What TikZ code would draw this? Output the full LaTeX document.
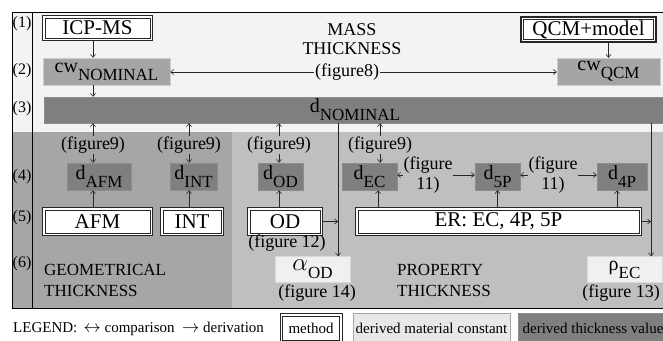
\documentclass[tikz,border=0pt]{standalone}
\usepackage{fontspec}
\setmainfont{Liberation Serif}
\usepackage{tikz}
\usetikzlibrary{arrows.meta, positioning}

\definecolor{bandlight}{HTML}{F3F3F3}
\definecolor{geomgray}{HTML}{A6A6A6}
\definecolor{propgray}{HTML}{BFBFBF}
\definecolor{valgray}{HTML}{7F7F7F}
\definecolor{cwgray}{HTML}{A5A5A5}
\definecolor{constgray}{HTML}{F0F0F0}

\newcommand{\fsz}[1]{\fontsize{#1}{#1}\selectfont}
\newcommand{\lowsub}[2]{#1\raisebox{-0.4em}{\fsz{17}#2}}

\begin{document}
\begin{tikzpicture}[x=1pt, y=-1pt, >={Straight Barb[length=3pt,width=5pt]},
    methbox/.style={draw=black!85, line width=1.2pt, fill=white, inner sep=0pt,
        minimum height=25, font=\fsz{21},
        path picture={\draw[black!85, line width=0.6pt]
            ([shift={(2.3pt,-2.3pt)}]path picture bounding box.north west) rectangle
            ([shift={(-2.3pt,2.3pt)}]path picture bounding box.south east);}},
    thkval/.style={fill=valgray, draw=black!45, line width=0.4pt, inner sep=0pt,
        minimum height=27, font=\fsz{20}},
    cwbox/.style={fill=cwgray, draw=black!20, line width=0.4pt, inner sep=0pt,
        minimum height=27, font=\fsz{20}},
    constbox/.style={fill=constgray, draw=black!15, line width=0.4pt, inner sep=0pt,
        minimum height=26, font=\fsz{20}},
    figlbl/.style={inner sep=0.5pt, font=\fontsize{18}{20}\selectfont},
    rowlbl/.style={inner sep=0pt, font=\fsz{16}},
    areatxt/.style={inner sep=0pt, font=\fontsize{17}{21}\selectfont},
    legfont/.style={font=\fsz{15}},
    conn/.style={->, line width=0.6pt, black!85}]
    \useasboundingbox (0,0) rectangle (663,340);

    % Background bands and frame
    \fill[bandlight] (12,12) rectangle (667,132);
    \fill[geomgray] (12,132) rectangle (232,308);
    \fill[propgray] (232,132) rectangle (667,308);
    \draw[line width=0.8pt] (667,12) -- (12,12) -- (12,308) -- (667,308);
    \draw[line width=0.8pt] (32,12) -- (32,308);

    % Row labels
    \foreach \y/\r in {24/1, 71/2, 109/3, 177/4, 218/5, 264/6} {
        \node[rowlbl] (row\r) at (22,\y) {(\r)};
    }

    % Mass thickness
    \node[methbox, minimum width=110] (icpms) at (97.5,28) {ICP-MS};
    \node[methbox, minimum width=135] (qcm) at (588.5,29.5) {QCM+model};
    \node[cwbox, minimum width=127] (cwnom) at (106.5,71.5) {\lowsub{cw}{NOMINAL}};
    \node[cwbox, minimum width=103] (cwqcm) at (608.5,71.5) {\lowsub{cw}{QCM}};
    \node[areatxt, align=center, font=\fontsize{18}{19}\selectfont] (masstxt) at (352,39) {MASS\\THICKNESS};
    \node[figlbl] (fig8) at (347,72) {(figure8)};
    \node[thkval, minimum width=622, minimum height=26] (dnom) at (355,110) {\lowsub{d}{NOMINAL}};

    \draw[conn] (icpms.south -| 93,0) -- (cwnom.north -| 93,0);
    \draw[conn] (cwnom.south -| 93,0) -- (dnom.north -| 93,0);
    \draw[conn] (qcm.south -| cwqcm) -- (cwqcm.north);
    \draw[conn] (fig8.west) -- (fig8.west -| cwnom.east);
    \draw[conn] (fig8.east) -- (fig8.east -| cwqcm.west);

    % Thickness values
    \foreach \n/\x in {a/93, b/189, c/279, d/380} {
        \node[figlbl] (fig9\n) at (\x,145) {(figure9)};
    }
    \node[thkval, minimum width=64] (dafm) at (99,176.5) {\lowsub{d}{AFM}};
    \node[thkval, minimum width=47] (dint) at (193.5,176.5) {\lowsub{d}{INT}};
    \node[thkval, minimum width=45] (dod) at (280.5,176.5) {\lowsub{d}{OD}};
    \node[thkval, minimum width=55] (dec) at (369.5,176.5) {\lowsub{d}{EC}};
    \node[thkval, minimum width=45] (d5p) at (497.5,176.5) {\lowsub{d}{5P}};
    \node[thkval, minimum width=50] (d4p) at (622,176.5) {\lowsub{d}{4P}};

    \foreach \n/\d in {a/dafm, b/dint, c/dod, d/dec} {
        \draw[conn] (fig9\n.north) -- (fig9\n.north |- dnom.south);
        \draw[conn] (fig9\n.south) -- (fig9\n.south |- \d.north);
    }

    \node[figlbl, align=center] (fig11a) at (428,175) {(figure\\11)};
    \node[figlbl, align=center] (fig11b) at (553,175) {(figure\\11)};
    \draw[conn] (fig11a.west) -- (fig11a.west -| dec.east);
    \draw[conn] (fig11a.east) -- (fig11a.east -| d5p.west);
    \draw[conn] (fig11b.west) -- (fig11b.west -| d5p.east);
    \draw[conn] (fig11b.east) -- (fig11b.east -| d4p.west);

    % Methods
    \node[methbox, minimum width=110, minimum height=28] (afm) at (97.5,221.5) {AFM};
    \node[methbox, minimum width=63, minimum height=28] (int) at (192,221.5) {INT};
    \node[methbox, minimum width=75, minimum height=28] (od) at (285,221.5) {OD};
    \node[methbox, minimum width=286, minimum height=28] (er) at (498.5,221.5) {ER: EC, 4P, 5P};

    \draw[conn] (afm.north -| fig9a) -- (dafm.south -| fig9a);
    \draw[conn] (int.north -| fig9b) -- (dint.south -| fig9b);
    \draw[conn] (od.north -| fig9c) -- (dod.south -| fig9c);
    \draw[conn] (er.north -| 378,0) -- (dec.south -| 378,0);
    \draw[conn] (er.north -| d5p) -- (d5p.south);
    \draw[conn] (er.north -| 617,0) -- (d4p.south -| 617,0);

    % Material constants
    \node[constbox, minimum width=75] (alphaod) at (312.5,269.5) {\lowsub{{\fsz{23}$\alpha$}}{OD}};
    \node[constbox, minimum width=75] (rhoec) at (624.5,269.5) {\lowsub{ρ}{EC}};
    \coordinate (odline) at (338,123);
    \coordinate (ecline) at (651,123);
    \draw[conn] (odline) -- (odline |- alphaod.north);
    \draw[conn] (ecline) -- (ecline |- rhoec.north);
    \draw[conn] (od.east) -- (od.east -| odline);
    \draw[conn] (er.east) -- (er.east -| ecline);
    \node[figlbl] (fig12) at (287,243.5) {(figure 12)};
    \node[figlbl] (fig14) at (317,293.5) {(figure 14)};
    \node[figlbl] (fig13) at (621,293.5) {(figure 13)};

    % Area titles
    \node[areatxt, align=left, anchor=west] (geomtxt) at (44,280) {GEOMETRICAL\\THICKNESS};
    \node[areatxt, align=left, anchor=west] (proptxt) at (397,280) {PROPERTY\\THICKNESS};

    % Legend
    \node[legfont, anchor=west, inner sep=0pt] (legend) at (13,329)
        {LEGEND: \,{\fsz{19}$\leftrightarrow$} comparison \ {\fsz{17}$\rightarrow$} derivation};
    \node[methbox, legfont, line width=1pt, minimum width=62, minimum height=29] (legmeth) at (311,328) {method};
    \node[constbox, legfont, fill=black!9, draw=black!35, minimum width=157, minimum height=29] (legconst) at (431.5,328) {derived material constant};
    \node[thkval, legfont, minimum width=150, minimum height=29] (legval) at (593,328) {derived thickness value};
\end{tikzpicture}
\end{document}
